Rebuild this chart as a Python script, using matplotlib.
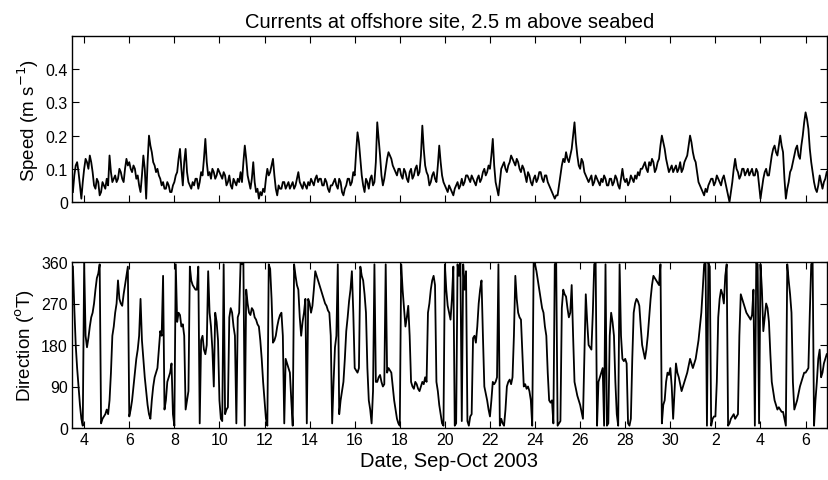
import numpy as np
import matplotlib
matplotlib.use("Agg")
import matplotlib.pyplot as plt

plt.rcParams['font.family'] = ['Liberation Sans', 'DejaVu Sans']

# ---- data: 90-minute samples, day numbers counted from 1 Sep 2003 (Oct 1 = 31) ----
t_start = 3.5
t_step = 1 / 16

speed = [
    0.03, 0.08, 0.11, 0.12, 0.09, 0.05, 0.01, 0.06,                                   # 3.5
    0.10, 0.13, 0.12, 0.10, 0.14, 0.12, 0.09, 0.05, 0.04, 0.07, 0.06, 0.02, 0.03, 0.06, 0.05, 0.04,  # 4
    0.07, 0.05, 0.14, 0.09, 0.06, 0.07, 0.08, 0.06, 0.07, 0.10, 0.09, 0.07, 0.06, 0.10, 0.13, 0.11,  # 5
    0.12, 0.10, 0.09, 0.11, 0.10, 0.07, 0.08, 0.05, 0.03, 0.08, 0.14, 0.10, 0.01, 0.12, 0.20, 0.17,  # 6
    0.15, 0.12, 0.11, 0.09, 0.10, 0.08, 0.07, 0.05, 0.06, 0.04, 0.04, 0.06, 0.05, 0.03, 0.03, 0.05,  # 7
    0.06, 0.08, 0.09, 0.13, 0.16, 0.10, 0.05, 0.12, 0.16, 0.09, 0.06, 0.05, 0.04, 0.06, 0.05, 0.07,  # 8
    0.07, 0.04, 0.06, 0.09, 0.08, 0.13, 0.19, 0.12, 0.08, 0.09, 0.07, 0.10, 0.09, 0.07, 0.08, 0.10,  # 9
    0.09, 0.08, 0.07, 0.09, 0.08, 0.05, 0.06, 0.08, 0.05, 0.04, 0.07, 0.06, 0.05, 0.07, 0.06, 0.09,  # 10
    0.06, 0.12, 0.17, 0.13, 0.08, 0.06, 0.04, 0.07, 0.12, 0.06, 0.03, 0.04, 0.01, 0.03, 0.02, 0.04,  # 11
    0.03, 0.07, 0.10, 0.08, 0.09, 0.11, 0.13, 0.08, 0.04, 0.02, 0.05, 0.04, 0.04, 0.06, 0.06, 0.04,  # 12
    0.05, 0.06, 0.04, 0.05, 0.06, 0.04, 0.05, 0.07, 0.09, 0.06, 0.05, 0.04, 0.06, 0.05, 0.04, 0.06,  # 13
    0.05, 0.07, 0.06, 0.05, 0.07, 0.08, 0.06, 0.07, 0.07, 0.05, 0.05, 0.07, 0.06, 0.04, 0.03, 0.05,  # 14
    0.05, 0.06, 0.07, 0.05, 0.04, 0.07, 0.06, 0.03, 0.02, 0.04, 0.05, 0.07, 0.07, 0.05, 0.06, 0.09,  # 15
    0.08, 0.15, 0.21, 0.18, 0.13, 0.08, 0.05, 0.03, 0.07, 0.06, 0.04, 0.07, 0.08, 0.05, 0.06, 0.12,  # 16
    0.24, 0.19, 0.14, 0.08, 0.05, 0.07, 0.10, 0.13, 0.15, 0.14, 0.13, 0.11, 0.10, 0.09, 0.08, 0.10,  # 17
    0.10, 0.08, 0.07, 0.10, 0.09, 0.07, 0.06, 0.09, 0.10, 0.07, 0.08, 0.10, 0.11, 0.08, 0.09, 0.14,  # 18
    0.23, 0.16, 0.11, 0.09, 0.08, 0.05, 0.06, 0.08, 0.09, 0.07, 0.06, 0.11, 0.17, 0.12, 0.08, 0.06,  # 19
    0.05, 0.04, 0.03, 0.05, 0.04, 0.03, 0.02, 0.04, 0.05, 0.06, 0.04, 0.05, 0.07, 0.05, 0.06, 0.08,  # 20
    0.08, 0.07, 0.06, 0.08, 0.07, 0.06, 0.05, 0.07, 0.08, 0.06, 0.07, 0.09, 0.10, 0.08, 0.09, 0.11,  # 21
    0.10, 0.14, 0.19, 0.11, 0.06, 0.04, 0.02, 0.06, 0.10, 0.11, 0.12, 0.10, 0.09, 0.11, 0.12, 0.14,  # 22
    0.13, 0.12, 0.11, 0.13, 0.12, 0.10, 0.09, 0.11, 0.10, 0.08, 0.06, 0.09, 0.08, 0.06, 0.05, 0.07,  # 23
    0.08, 0.06, 0.07, 0.09, 0.09, 0.07, 0.06, 0.08, 0.08, 0.06, 0.05, 0.04, 0.03, 0.02, 0.01, 0.02,  # 24
    0.02, 0.05, 0.08, 0.11, 0.13, 0.12, 0.15, 0.13, 0.12, 0.14, 0.16, 0.20, 0.24, 0.18, 0.14, 0.11,  # 25
    0.10, 0.13, 0.12, 0.09, 0.08, 0.07, 0.06, 0.07, 0.08, 0.05, 0.06, 0.08, 0.07, 0.06, 0.05, 0.07,  # 26
    0.06, 0.08, 0.07, 0.05, 0.05, 0.07, 0.07, 0.05, 0.06, 0.08, 0.07, 0.05, 0.04, 0.07, 0.10, 0.07,  # 27
    0.06, 0.07, 0.05, 0.06, 0.08, 0.07, 0.06, 0.08, 0.07, 0.09, 0.08, 0.10, 0.10, 0.11, 0.12, 0.10,  # 28
    0.09, 0.12, 0.11, 0.13, 0.12, 0.09, 0.10, 0.12, 0.13, 0.17, 0.20, 0.18, 0.16, 0.13, 0.11, 0.09,  # 29
    0.10, 0.11, 0.09, 0.10, 0.11, 0.09, 0.10, 0.12, 0.09, 0.10, 0.12, 0.13, 0.14, 0.17, 0.20, 0.18,  # 30
    0.15, 0.13, 0.12, 0.09, 0.06, 0.05, 0.04, 0.03, 0.02, 0.04, 0.03, 0.05, 0.06, 0.07, 0.07, 0.05,  # Oct 1
    0.06, 0.08, 0.07, 0.06, 0.05, 0.07, 0.08, 0.06, 0.04, 0.02, 0.00, 0.03, 0.06, 0.10, 0.13, 0.10,  # Oct 2
    0.09, 0.07, 0.08, 0.10, 0.10, 0.08, 0.09, 0.10, 0.08, 0.09, 0.10, 0.08, 0.08, 0.10, 0.09, 0.05,  # Oct 3
    0.01, 0.04, 0.07, 0.09, 0.10, 0.08, 0.08, 0.11, 0.14, 0.16, 0.17, 0.15, 0.14, 0.17, 0.20, 0.17,  # Oct 4
    0.15, 0.07, 0.01, 0.04, 0.06, 0.09, 0.10, 0.12, 0.14, 0.16, 0.17, 0.14, 0.13, 0.17, 0.20, 0.24,  # Oct 5
    0.27, 0.25, 0.22, 0.16, 0.12, 0.09, 0.06, 0.04, 0.03, 0.05, 0.08, 0.06, 0.04, 0.06, 0.07, 0.09,  # Oct 6
]

direction = [
    350, 260, 180, 130, 90, 50, 20, 5,                                                # 3.5
    358, 200, 175, 195, 220, 240, 250, 270, 300, 325, 335, 355, 10, 20, 25, 30,       # 4
    40, 30, 60, 120, 200, 220, 250, 270, 320, 280, 270, 265, 290, 310, 330, 350,      # 5
    25, 40, 60, 90, 120, 150, 170, 200, 280, 190, 150, 110, 80, 50, 30, 20,           # 6
    60, 90, 110, 120, 130, 170, 210, 200, 330, 40, 60, 100, 110, 120, 140, 30,        # 7
    5, 355, 230, 250, 245, 220, 225, 200, 40, 60, 80, 350, 320, 310, 305, 300,        # 8
    300, 350, 10, 190, 200, 170, 160, 180, 340, 250, 220, 170, 90, 250, 230, 190,     # 9
    60, 20, 15, 355, 30, 40, 45, 240, 260, 250, 220, 200, 10, 240, 250, 358,          # 10
    355, 360, 5, 300, 270, 250, 245, 260, 255, 240, 235, 225, 220, 190, 150, 100,     # 11
    60, 20, 5, 355, 345, 280, 185, 190, 200, 220, 235, 245, 250, 200, 10, 150,        # 12
    140, 130, 120, 60, 5, 355, 330, 310, 300, 240, 200, 230, 250, 280, 10, 280,       # 13
    270, 250, 265, 300, 340, 330, 320, 310, 300, 290, 280, 270, 265, 255, 250, 200,   # 14
    10, 100, 175, 200, 355, 30, 60, 80, 100, 150, 210, 240, 275, 300, 340, 250,       # 15
    130, 125, 120, 130, 350, 330, 320, 290, 250, 130, 60, 40, 10, 80, 355, 100,       # 16
    100, 110, 115, 100, 90, 95, 355, 120, 130, 125, 120, 90, 60, 40, 20, 10,          # 17
    5, 355, 300, 260, 220, 240, 265, 200, 100, 90, 85, 100, 95, 85, 80, 90,           # 18
    100, 95, 110, 100, 250, 270, 300, 320, 330, 310, 100, 80, 50, 30, 10, 5,          # 19
    355, 300, 265, 250, 235, 280, 350, 5, 10, 355, 330, 360, 15, 355, 300, 340,       # 20
    15, 5, 25, 30, 195, 200, 185, 220, 270, 300, 320, 200, 90, 75, 60, 40,            # 21
    25, 60, 100, 95, 100, 110, 355, 5, 20, 10, 5, 40, 90, 100, 105, 95,               # 22
    110, 200, 330, 280, 250, 240, 235, 160, 90, 95, 85, 90, 80, 60, 5, 358,           # 23
    355, 340, 320, 300, 280, 260, 250, 220, 200, 120, 60, 55, 60, 10, 355, 360,       # 24
    5, 10, 15, 260, 300, 290, 285, 260, 240, 250, 310, 200, 100, 85, 70, 60,          # 25
    50, 35, 20, 150, 290, 230, 180, 175, 170, 250, 355, 360, 5, 100, 110, 120,        # 26
    130, 5, 355, 5, 10, 200, 250, 230, 200, 100, 30, 5, 355, 200, 150, 145,           # 27
    150, 140, 10, 5, 20, 150, 250, 270, 280, 275, 265, 220, 180, 165, 150, 170,       # 28
    200, 240, 280, 310, 330, 325, 320, 315, 310, 355, 10, 50, 60, 100, 120, 115,      # 29
    130, 90, 20, 80, 140, 120, 110, 95, 80, 90, 100, 110, 120, 135, 150, 140,         # 30
    130, 140, 150, 170, 190, 220, 250, 300, 355, 360, 5, 358, 350, 5, 20, 25,         # Oct 1
    25, 100, 240, 280, 300, 290, 270, 330, 355, 5, 10, 20, 25, 30, 20, 25,            # Oct 2
    30, 200, 290, 280, 270, 260, 250, 245, 240, 235, 245, 300, 5, 358, 355, 10,       # Oct 3
    355, 300, 210, 240, 270, 260, 230, 160, 100, 80, 60, 50, 40, 45, 40, 35,          # Oct 4
    35, 20, 5, 355, 320, 290, 250, 100, 40, 50, 60, 75, 90, 100, 110, 120,            # Oct 5
    120, 125, 130, 250, 355, 360, 5, 60, 100, 150, 170, 110, 120, 140, 150, 160,      # Oct 6
]

tick_days = [4, 6, 8, 10, 12, 14, 16, 18, 20, 22, 24, 26, 28, 30, 32, 34, 36]
tick_labels = ["4", "6", "8", "10", "12", "14", "16", "18", "20", "22",
               "24", "26", "28", "30", "2", "4", "6"]
speed_ticks = [0, 0.1, 0.2, 0.3, 0.4]
speed_tick_labels = ["0", "0.1", "0.2", "0.3", "0.4"]
dir_ticks = [0, 90, 180, 270, 360]

t = t_start + t_step * np.arange(len(speed))
t_dir = t_start + t_step * np.arange(len(direction))

fig = plt.figure(figsize=(8.29, 4.81), dpi=100)
W, H = 829, 481
ax1 = fig.add_axes([72 / W, 1 - 203 / H, 755 / W, 166 / H])
ax2 = fig.add_axes([72 / W, 1 - 429 / H, 755 / W, 166 / H])

xlim = (3.46, 36.95)

ax1.plot(t, speed, color='black', lw=1.3)
ax1.set_xlim(*xlim)
ax1.set_ylim(0, 0.5)
ax1.set_yticks(speed_ticks)
ax1.set_yticklabels(speed_tick_labels)
ax1.set_xticks(tick_days)
ax1.set_xticklabels([])
ax1.set_ylabel("Speed (m s$^{-1}$)", fontsize=13.5, labelpad=3)
ax1.set_title("Currents at offshore site, 2.5 m above seabed", fontsize=14.5, pad=7)

ax2.plot(t_dir, direction, color='black', lw=1.3)
ax2.set_xlim(*xlim)
ax2.set_ylim(0, 360)
ax2.set_yticks(dir_ticks)
ax2.set_xticks(tick_days)
ax2.set_xticklabels(tick_labels)
ax2.set_ylabel("Direction ($^{\\mathrm{o}}$T)", fontsize=13.5, labelpad=3)
ax2.set_xlabel("Date, Sep-Oct 2003", fontsize=14.5, labelpad=3)

for ax in (ax1, ax2):
    ax.tick_params(direction='in', length=5, width=0.8, top=True, right=True,
                   labelsize=11.5, pad=3)
    for s in ax.spines.values():
        s.set_linewidth(1.0)

fig.savefig("out.png", dpi=100)
